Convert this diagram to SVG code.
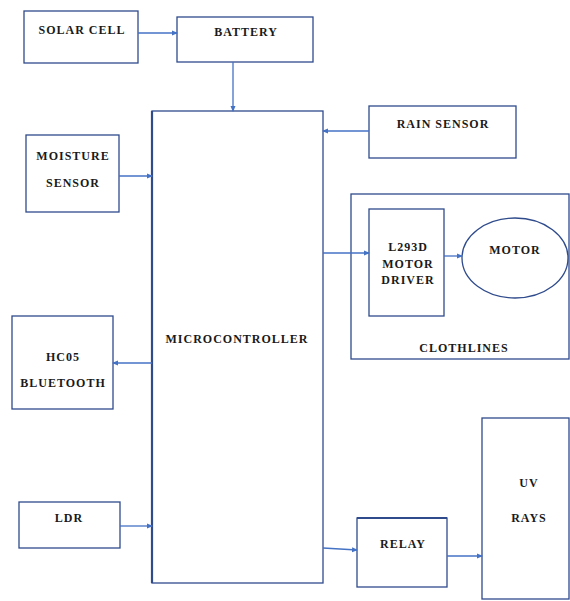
<svg xmlns="http://www.w3.org/2000/svg" width="570" height="601" viewBox="0 0 570 601">
<defs>
<marker id="ah" markerWidth="6" markerHeight="6" refX="5" refY="3" orient="auto" markerUnits="userSpaceOnUse">
<path d="M0,0.5 L6,3 L0,5.5 Z" fill="#4472C4"/>
</marker>
<style>
.box{fill:#fff;stroke:#2F4B8C;stroke-width:1.3}
.t{font-family:"Liberation Serif","Times New Roman","DejaVu Serif",serif;font-weight:bold;font-size:12px;letter-spacing:1px;fill:#1a1a1a;text-anchor:middle}
.c{fill:none;stroke:#4472C4;stroke-width:1.3;marker-end:url(#ah)}
</style>
</defs>
<rect width="570" height="601" fill="#fff"/>
<g id="solar"><rect class="box" x="24" y="11" width="114" height="52" stroke-width="2"/><text class="t" x="82" y="34">SOLAR CELL</text></g>
<g id="battery"><rect class="box" x="177" y="17" width="136" height="45"/><text class="t" x="246" y="36">BATTERY</text></g>
<g id="micro"><rect class="box" x="152" y="111" width="171" height="472"/><line x1="152" y1="111" x2="152" y2="583" stroke="#2F4B8C" stroke-width="2.2"/><text class="t" x="237" y="343">MICROCONTROLLER</text></g>
<g id="moisture"><rect class="box" x="26" y="135" width="93" height="77"/><text class="t" x="73" y="160">MOISTURE</text><text class="t" x="73" y="187">SENSOR</text></g>
<g id="rain"><rect class="box" x="369" y="106" width="147" height="52"/><text class="t" x="443" y="128">RAIN SENSOR</text></g>
<g id="clothlines"><rect class="box" x="351" y="194" width="218" height="165"/><text class="t" x="464" y="352">CLOTHLINES</text></g>
<g id="driver"><rect class="box" x="369" y="209" width="75" height="107"/><text class="t" x="408" y="251">L293D</text><text class="t" x="408" y="268">MOTOR</text><text class="t" x="408" y="284">DRIVER</text></g>
<g id="motor"><ellipse cx="515" cy="258" rx="53" ry="40" fill="#fff" stroke="#2F4B8C" stroke-width="1.3"/><text class="t" x="515" y="254">MOTOR</text></g>
<g id="hc05"><rect class="box" x="12" y="316" width="101" height="93"/><text class="t" x="63" y="361">HC05</text><text class="t" x="63" y="387">BLUETOOTH</text></g>
<g id="ldr"><rect class="box" x="19" y="502" width="101" height="46"/><text class="t" x="69" y="522">LDR</text></g>
<g id="relay"><rect class="box" x="357" y="518" width="90" height="69"/><line x1="357" y1="518" x2="447" y2="518" stroke="#2F4B8C" stroke-width="2.2"/><text class="t" x="403" y="548">RELAY</text></g>
<g id="uv"><rect class="box" x="482" y="418" width="87" height="181"/><text class="t" x="529" y="487">UV</text><text class="t" x="529" y="522">RAYS</text></g>
<g id="connectors">
<line class="c" x1="138" y1="33" x2="177" y2="33"/>
<line class="c" x1="233" y1="62" x2="233" y2="111"/>
<line class="c" x1="369" y1="131" x2="323" y2="131"/>
<line class="c" x1="119" y1="176" x2="152" y2="176"/>
<line class="c" x1="323" y1="253" x2="369" y2="253"/>
<line class="c" x1="444" y1="256" x2="462" y2="256"/>
<line class="c" x1="152" y1="363" x2="113" y2="363"/>
<line class="c" x1="120" y1="526" x2="152" y2="526"/>
<line class="c" x1="323" y1="548" x2="357" y2="550"/>
<line class="c" x1="447" y1="556" x2="482" y2="556"/>
</g>
</svg>
